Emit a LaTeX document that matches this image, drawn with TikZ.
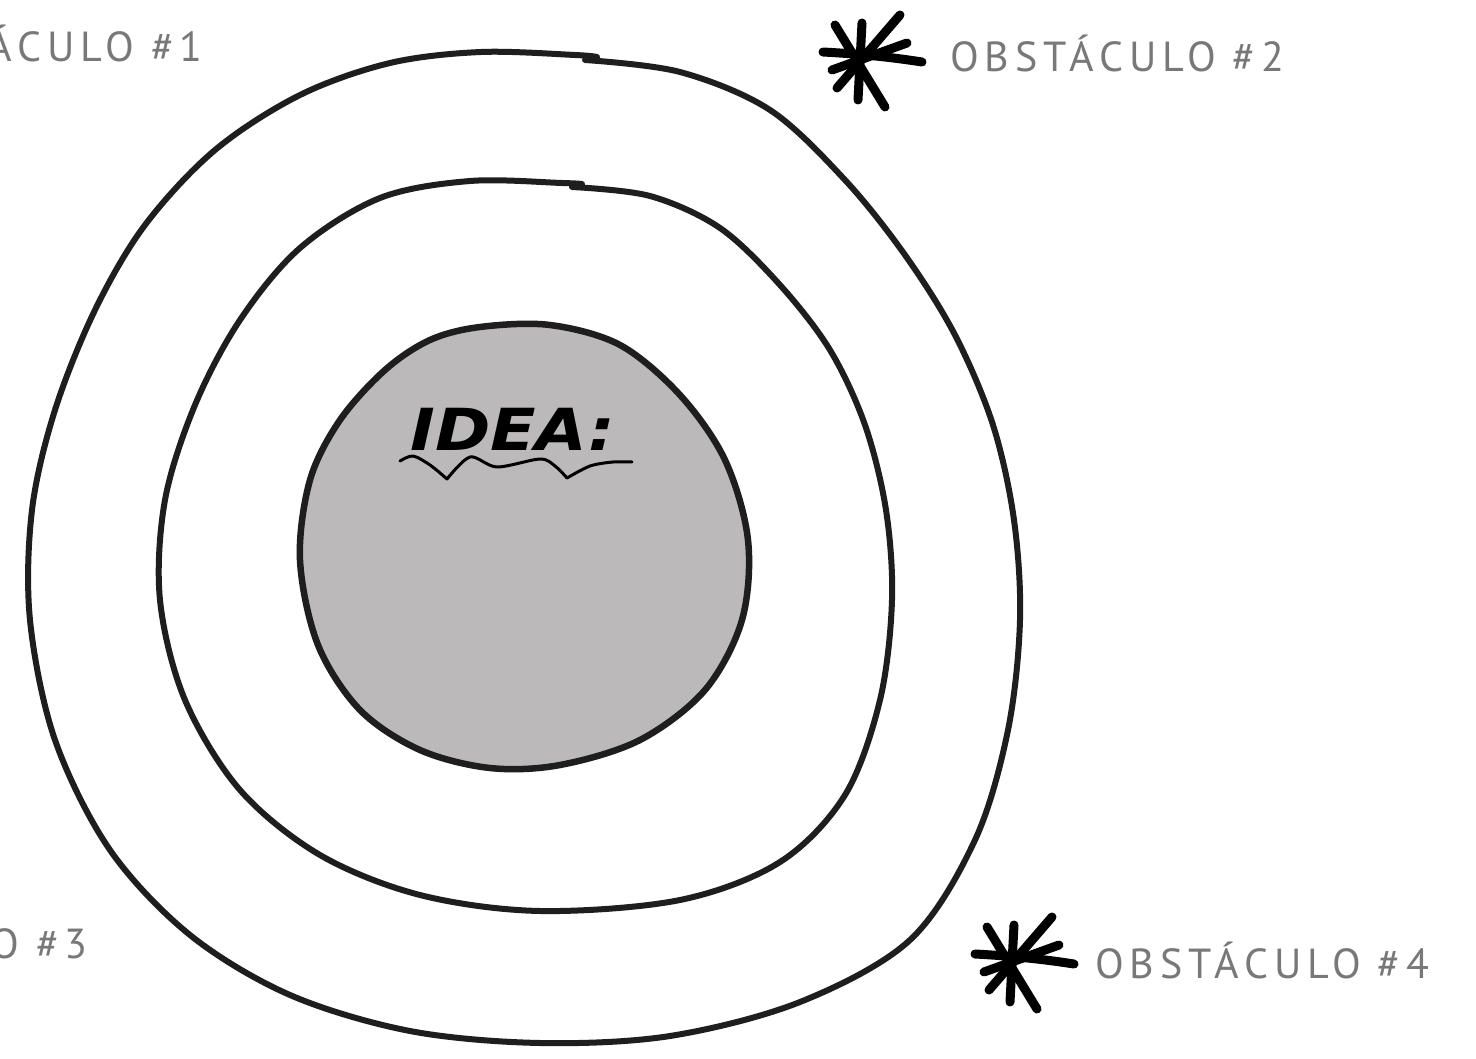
\documentclass[tikz,border=0pt]{standalone}
\usepackage{fontspec}
\newfontfamily\labfont{PT Sans}[LetterSpace=14]
\newfontfamily\ideafont{DejaVu Sans}
\definecolor{ink}{HTML}{1E1E1E}
\definecolor{blobgray}{HTML}{BCB9BA}
\definecolor{labgray}{HTML}{787878}
\tikzset{
  ring/.style={draw=ink, line width=6pt, line cap=round, line join=round},
  core/.style={draw=ink, fill=blobgray, line width=6.5pt, line join=round},
  obslabel/.style={text=labgray, font=\labfont\fontsize{42}{42}\selectfont, inner sep=0pt},
  starmark/.pic={
    \begin{scope}[line width=9pt, line cap=round, draw=black]
      \draw (-25,-35) -- (25,47);
      \draw (2,-37) -- (-2,40);
      \draw (40,-45) -- (-23,28);
      \draw (-37,-8) .. controls (0,-6) and (30,-3) .. (62,2);
      \draw (-28,10) -- (47,-17);
    \end{scope}
  }
}
\begin{document}
\begin{tikzpicture}[x=1pt, y=-1pt]
\useasboundingbox (0,0) rectangle (1476,1059);
\clip (0,0) rectangle (1476,1059);
\fill[white] (0,0) rectangle (1476,1059);

% outer ring
\draw[ring] plot[smooth, tension=0.55] coordinates {
 (585,60) (680,72) (770,110) (845,180) (905,255) (955,335) (993,425)
 (1014,520) (1020,620) (1008,730) (975,840) (910,940) (800,1002) (670,1036)
 (540,1043) (410,1031) (290,995) (190,935) (110,850) (55,740) (30,620)
 (32,510) (55,410) (95,310) (145,225) (215,150) (300,95) (390,63) (481,52) (575,55) (597,57)};

% middle ring
\draw[ring] plot[smooth, tension=0.55] coordinates {
 (572,187) (650,196) (720,228) (780,285) (830,350) (865,425) (886,510)
 (892,600) (880,700) (845,795) (780,862) (680,900) (540,911) (420,895)
 (320,855) (240,790) (185,700) (160,600) (165,500) (195,405) (240,320)
 (300,248) (380,198) (470,181) (562,183) (582,184)};

% inner core
\path[core] plot[smooth cycle, tension=0.55] coordinates {
 (480,327) (550,325) (620,345) (680,395) (725,460) (748,540) (742,620)
 (705,690) (640,740) (560,765) (490,768) (420,750) (360,710) (318,645)
 (300,560) (310,480) (340,420) (385,370) (430,340)};

% IDEA title
\node[anchor=base west, inner sep=0pt, text=black] (idea) at (410,450)
  {\scalebox{1.15}[1]{\ideafont\bfseries\itshape\fontsize{58}{58}\selectfont IDEA:}};
\draw[line width=3pt, line cap=round, line join=round, draw=black]
  plot[smooth] coordinates {(400,461) (413,456) (430,465) (447,479)}
  -- plot[smooth] coordinates {(447,479) (470,457) (497,467) (540,459) (555,466) (567,478)}
  -- plot[smooth] coordinates {(567,478) (590,466) (613,462) (632,462)};

% stars
\pic at (860,60) {starmark};
\pic at (1012,962) {starmark};

% labels
\node[obslabel, anchor=base east] (obs1) at (203,62) {OBSTÁCULO \#1};
\node[obslabel, anchor=base west] (obs2) at (950,72) {OBSTÁCULO \#2};
\node[obslabel, anchor=base east] (obs3) at (88,958) {OBSTÁCULO \#3};
\node[obslabel, anchor=base west] (obs4) at (1095,978) {OBSTÁCULO \#4};
\end{tikzpicture}
\end{document}
